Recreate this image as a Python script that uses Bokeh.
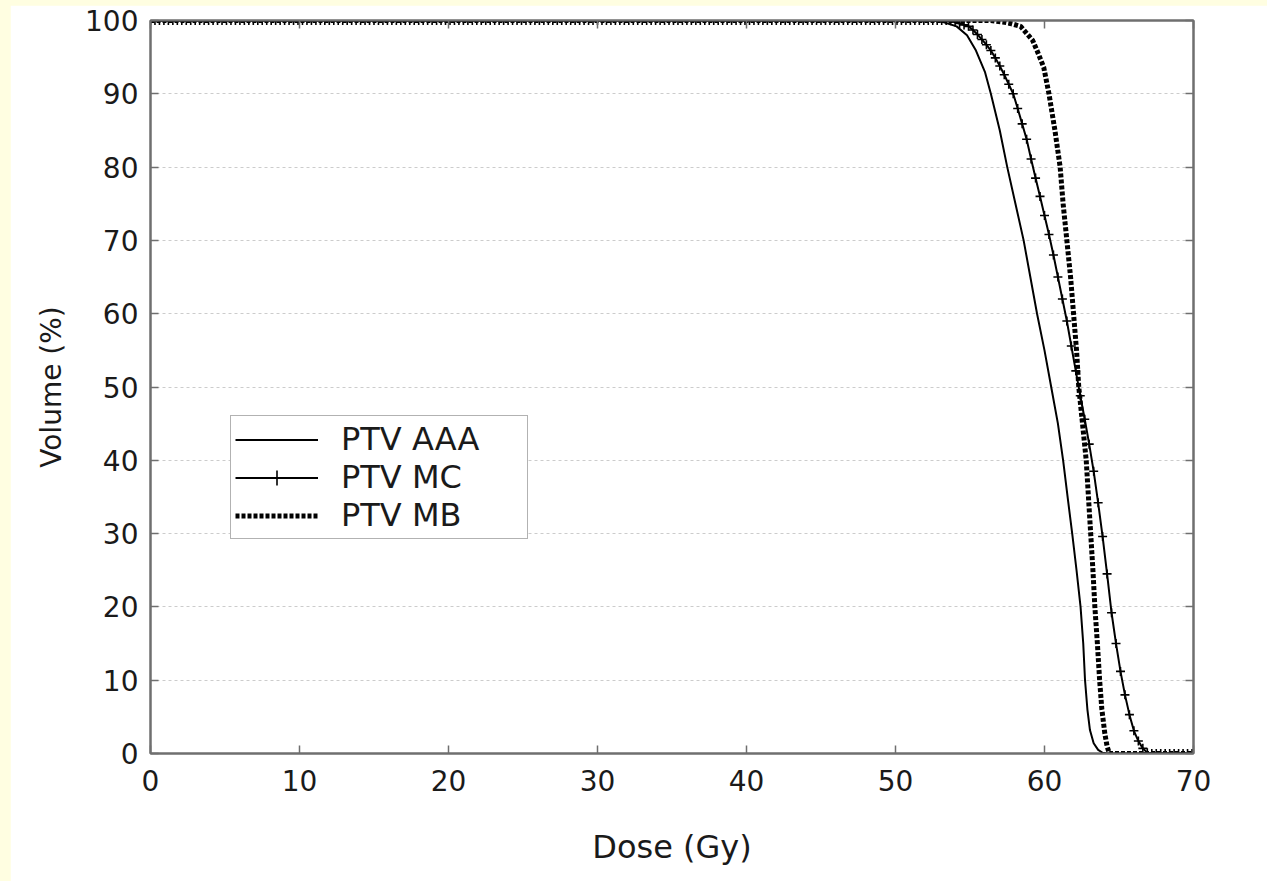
from bokeh.plotting import figure
from bokeh.models import (Range1d, FixedTicker, LinearAxis, Legend, LegendItem)
from bokeh.layouts import column
from bokeh.embed import file_html
from bokeh.resources import INLINE

# ---------------- data ----------------
x_ticks = [0, 10, 20, 30, 40, 50, 60, 70]
y_ticks = [0, 10, 20, 30, 40, 50, 60, 70, 80, 90, 100]

aaa_dose = [0, 52.5, 53.2, 54.1, 54.8, 55.4, 56.0, 56.4, 57.0, 57.5, 58.05, 58.6,
            58.96, 59.5, 60.0, 60.45, 60.9, 61.25, 61.55, 61.86, 62.15, 62.42,
            62.6, 62.72, 62.88, 63.05, 63.3, 63.6, 63.9, 64.2, 70]
aaa_vol = [100, 100, 99.8, 99.2, 98, 95.9, 93, 90, 85, 80, 75, 70,
           66, 60, 55, 50, 45, 40, 35, 30, 25, 20,
           15, 10, 6, 3.2, 1.4, 0.5, 0.1, 0, 0]

mb_dose = [0, 56.4, 57.2, 57.7, 58.4, 59.2, 59.5, 59.95, 60.3, 60.7, 61.05, 61.25,
           61.5, 61.75, 61.95, 62.15, 62.3, 62.55, 62.8, 62.95, 63.1, 63.25,
           63.38, 63.55, 63.7, 63.85, 64.05, 64.2, 64.35, 70]
mb_vol = [100, 100, 99.8, 99.6, 99.2, 97.3, 95.9, 93.6, 90, 85, 80, 75,
          70, 65, 60, 55, 50, 45, 40, 35, 30, 25,
          20, 15, 10, 6, 2.7, 1, 0, 0]

# MC: one value per 0.3 Gy dose bin (markers sit on every bin)
mc_bin_width = 0.3
mc_vol = ([100.0] * 179 +
          [99.95, 99.8, 99.6, 99.4, 99.2, 98.7, 98.1, 97.4, 96.7, 95.9,
           94.9, 93.8, 92.6, 91.3, 90.0, 88.0, 85.9, 83.8, 81.1, 78.5,
           76.0, 73.4, 70.8, 68.0, 65.0, 62.0, 59.0, 55.6, 52.2, 48.8,
           45.6, 42.2, 38.5, 34.2, 29.6, 24.5, 19.2, 15.0, 11.2, 8.0,
           5.3, 3.1, 1.7, 0.7, 0.1] +
          [0.0] * 11)
mc_dose = [round(i * mc_bin_width, 1) for i in range(len(mc_vol))]

labels = ["PTV AAA", "PTV MC", "PTV MB"]

# ---------------- figure ----------------
FONT = "DejaVu Sans"
TXT = "#1a1a1a"
AX = "#6f6f6f"

p = figure(width=1257, height=876, x_range=Range1d(0, 70), y_range=Range1d(0, 100),
           output_backend="svg", toolbar_location=None,
           min_border_left=140, min_border_right=74, min_border_top=15,
           min_border_bottom=128, background_fill_color="white",
           border_fill_color="white")
p.margin = (5, 0, 0, 10)
p.outline_line_color = AX
p.outline_line_width = 2

for ax in (p.xaxis[0], p.yaxis[0]):
    ax.axis_line_color = AX
    ax.axis_line_width = 2
    ax.major_tick_line_color = AX
    ax.major_tick_line_width = 1.5
    ax.major_tick_in = 8
    ax.major_tick_out = 0
    ax.minor_tick_line_color = None
    ax.major_label_text_font = FONT
    ax.major_label_text_font_size = "28px"
    ax.major_label_text_color = TXT
    ax.axis_label_text_font = FONT
    ax.axis_label_text_font_style = "normal"
    ax.axis_label_text_color = TXT

p.xaxis[0].ticker = FixedTicker(ticks=x_ticks)
p.yaxis[0].ticker = FixedTicker(ticks=y_ticks)
p.xaxis[0].axis_label = "Dose (Gy)"
p.yaxis[0].axis_label = "Volume (%)"
p.xaxis[0].axis_label_text_font_size = "32px"
p.yaxis[0].axis_label_text_font_size = "28px"
p.xaxis[0].major_label_standoff = 16
p.yaxis[0].major_label_standoff = 12
p.xaxis[0].axis_label_standoff = 34
p.yaxis[0].axis_label_standoff = 14

# top / right axes: inward ticks only, no labels drawn
top = LinearAxis(ticker=FixedTicker(ticks=x_ticks))
right = LinearAxis(ticker=FixedTicker(ticks=y_ticks))
for ax in (top, right):
    ax.axis_line_color = AX
    ax.axis_line_width = 2
    ax.major_tick_line_color = AX
    ax.major_tick_line_width = 1.5
    ax.major_tick_in = 8
    ax.major_tick_out = 0
    ax.minor_tick_line_color = None
    ax.major_label_text_font_size = "1px"
    ax.major_label_text_color = None
    ax.major_label_text_alpha = 0
    ax.major_label_standoff = 0
p.add_layout(top, "above")
p.add_layout(right, "right")

p.xgrid.visible = False
p.ygrid.grid_line_color = "#cccccc"
p.ygrid.grid_line_dash = "3 3"
p.ygrid.grid_line_width = 1

# ---------------- curves ----------------
r_aaa = p.line(aaa_dose, aaa_vol, line_color="black", line_width=2)
r_mc_line = p.line(mc_dose, mc_vol, line_color="black", line_width=2)
r_mc_pts = p.scatter(mc_dose, mc_vol, marker="cross", size=9, line_color="black",
                     line_width=1.6)
r_mb = p.line(mb_dose, mb_vol, line_color="black", line_width=5, line_dash="4 2")

legend = Legend(items=[
    LegendItem(label=labels[0], renderers=[r_aaa]),
    LegendItem(label=labels[1], renderers=[r_mc_line, r_mc_pts]),
    LegendItem(label=labels[2], renderers=[r_mb]),
], location=(80, 214))
legend.padding = 4
legend.spacing = 0
legend.margin = 0
legend.glyph_width = 83
legend.glyph_height = 37
legend.label_height = 37
legend.label_standoff = 23
legend.label_width = 182
legend.label_text_font = FONT
legend.label_text_font_size = "32px"
legend.label_text_color = TXT
legend.border_line_color = "#666666"
legend.border_line_width = 1.5
legend.background_fill_color = "white"
legend.background_fill_alpha = 1
p.add_layout(legend, "center")

lay = column(p, styles={"background-color": "#FFFEE1"})

html = file_html(lay, INLINE)
html = html.replace("<body>", '<body style="background:#FFFEE1;margin:0">', 1)
open("out.html", "w").write(html)
